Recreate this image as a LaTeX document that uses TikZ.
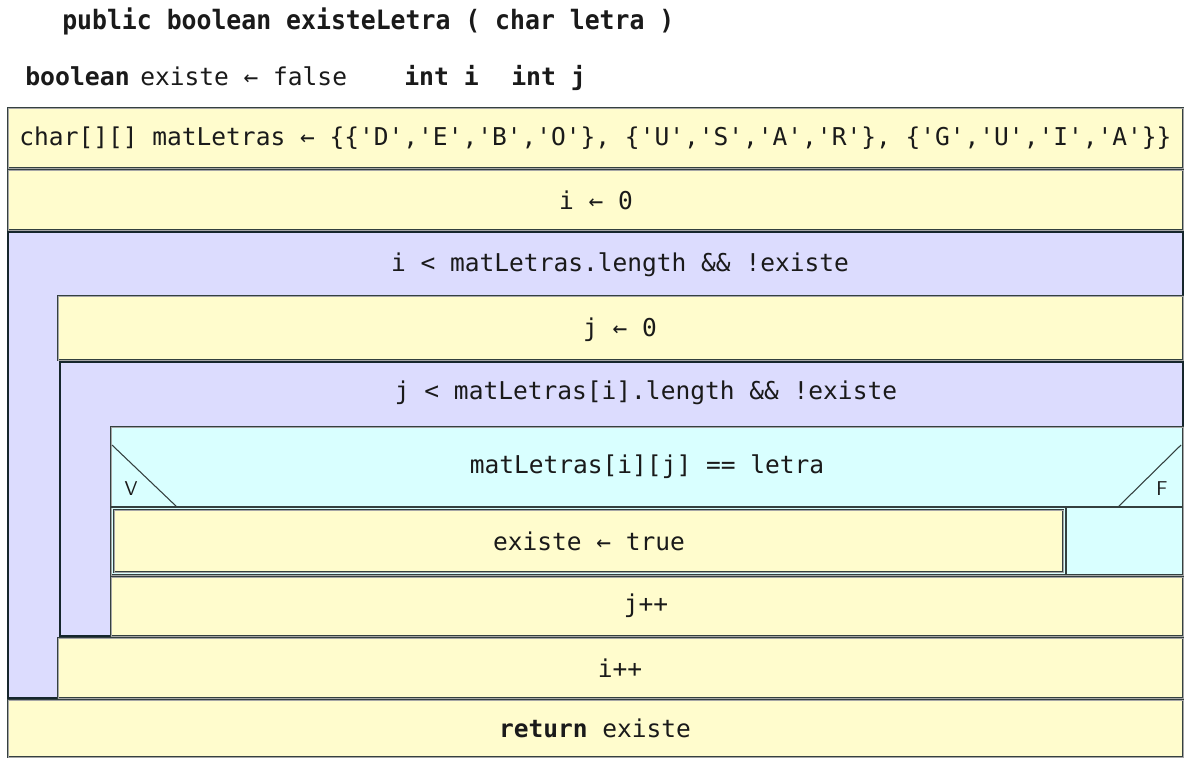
\documentclass[tikz,border=0pt]{standalone}
\usepackage{fontspec}
\setmonofont{DejaVu Sans Mono}
\definecolor{yel}{HTML}{FFFCCD}
\definecolor{lav}{HTML}{DCDCFE}
\definecolor{cyn}{HTML}{D9FFFF}
\definecolor{edge}{HTML}{34403F}
\definecolor{dark}{HTML}{16262C}
\definecolor{txt}{HTML}{1A1A1A}
\tikzset{
  cell/.style={draw=edge, line width=0.65pt, double=black!35, double distance=0.5pt},
  ycell/.style={cell, fill=yel},
  ccell/.style={cell, fill=cyn},
  loopframe/.style={fill=lav, draw=dark, line width=1.6pt},
  code/.style={font=\ttfamily\fontsize{18.4}{22}\selectfont, text=txt, inner sep=0pt},
  head/.style={font=\ttfamily\bfseries\fontsize{18.6}{22}\selectfont, text=txt, inner sep=0pt, anchor=base west},
  tag/.style={font=\sffamily\fontsize{15}{18}\selectfont, text=txt, inner sep=0pt},
  diag/.style={draw=edge, line width=0.8pt}
}
\begin{document}
\begin{tikzpicture}[x=0.75pt, y=-0.75pt]
\useasboundingbox[fill=white] (0,0) rectangle (1191,758);

% method signature and local declarations
\node[head, font=\ttfamily\bfseries\fontsize{20}{24}\selectfont] (sig) at (62,29)
  {\scalebox{0.93}[1]{public boolean existeLetra (~char letra~)}};
\node[head] (decb) at (25,85) {boolean};
\node[code, anchor=base west] (decx) at (140,85) {existe ← false};
\node[head] (deci) at (404,85) {int i};
\node[head] (decj) at (511,85) {int j};

% array initialisation and i <- 0
\draw[ycell] (8,108) rectangle (1183,168);
\node[code] (mat) at (595.5,138) {char[][] matLetras ← \{\{'D','E','B','O'\}, \{'U','S','A','R'\}, \{'G','U','I','A'\}\}};
\draw[ycell] (8,170) rectangle (1183,230);
\node[code] (i0) at (596,200) {i ← 0};

% outer while loop
\draw[loopframe] (8,232) rectangle (1183,698);
\node[code] (w1) at (620,265) {i < matLetras.length \&\& !existe};

\draw[ycell] (58,296) rectangle (1183,360);
\node[code] (j0) at (620,330) {j ← 0};

% inner while loop
\draw[loopframe] (60,362) rectangle (1183,636);
\node[code] (w2) at (646,393) {j < matLetras[i].length \&\& !existe};

% if statement
\draw[ccell] (111,427) rectangle (1183,575);
\draw[diag] (112,445) -- (177,507);
\draw[diag] (1181,445) -- (1118,507);
\draw[edge, line width=1.3pt] (111,507) -- (1183,507);
\draw[edge, line width=1.3pt] (1066,507) -- (1066,575);
\node[code] (cond) at (647,467) {matLetras[i][j] == letra};
\node[tag] (v) at (131,489) {V};
\node[tag] (f) at (1162,489) {F};

\draw[ycell] (114,510) rectangle (1063,572);
\node[code] (set) at (589,541) {existe ← true};

\draw[ycell] (111,577) rectangle (1183,636);
\node[code] (jinc) at (646,606) {j++};

\draw[ycell] (58,638) rectangle (1183,698);
\node[code] (iinc) at (620,668) {i++};

% return
\draw[ycell] (8,700) rectangle (1183,757);
\node[code] (ret) at (595,728) {\textbf{return} existe};
\end{tikzpicture}
\end{document}
